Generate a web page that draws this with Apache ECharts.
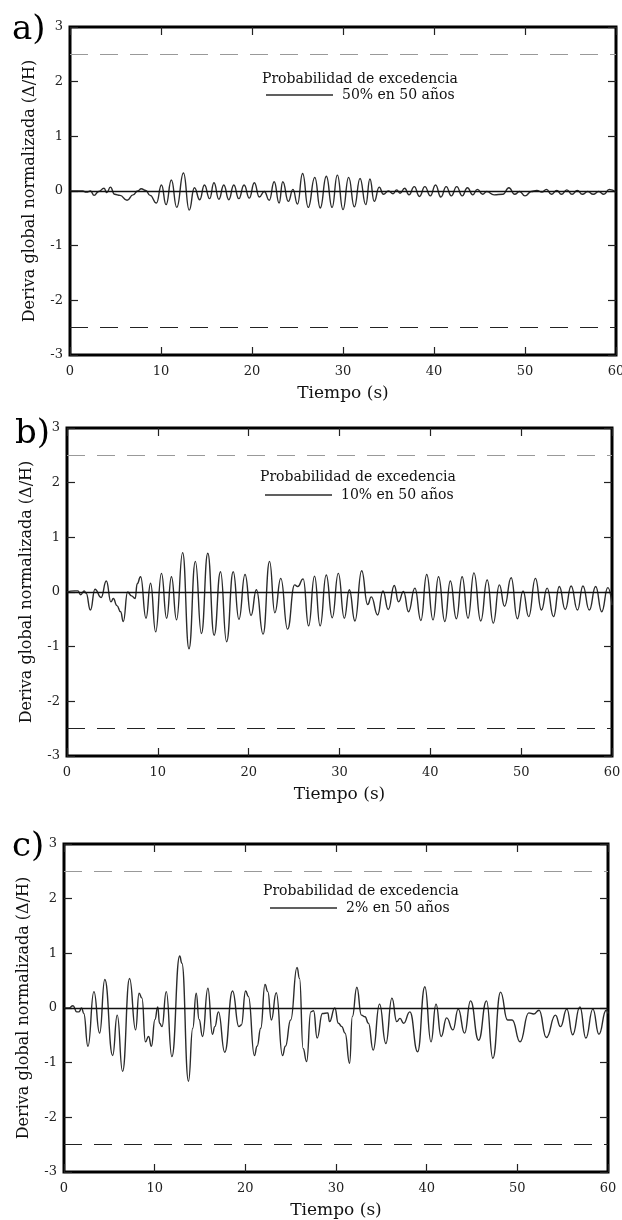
<!DOCTYPE html>
<html>
<head>
<meta charset="utf-8">
<title>Deriva global normalizada</title>
<script src="https://cdn.jsdelivr.net/npm/echarts/dist/echarts.min.js"></script>
<style>
  html, body { margin: 0; padding: 0; background: #fff; }
  #chart { width: 622px; height: 1220px; }
</style>
</head>
<body>
<div id="chart"></div>
<script>
  // datos: [tiempo (s), deriva (Δ/H)]
  var derivaA = [[0,0],[1.4,0],[1.8,-0.02],[2.26,0],[2.65,-0.08],[3.15,-0.01],[3.74,0.05],[4.05,-0.03],[4.44,0.07],[4.9,-0.06],[5.5,-0.08],[6.27,-0.17],[6.93,-0.07],[7.44,0],[7.83,0.04],[8.33,0.01],[8.8,-0.08],[9.5,-0.22],[10.05,0.11],[10.56,-0.25],[11.14,0.2],[11.73,-0.3],[12.47,0.33],[13.1,-0.35],[13.67,0.06],[14.26,-0.16],[14.77,0.11],[15.35,-0.14],[15.82,0.15],[16.36,-0.15],[16.9,0.11],[17.45,-0.16],[18.0,0.11],[18.55,-0.14],[19.13,0.11],[19.71,-0.13],[20.26,0.15],[20.8,-0.11],[21.35,-0.01],[21.9,-0.17],[22.44,0.17],[22.98,-0.22],[23.38,0.17],[24.0,-0.19],[24.5,0.03],[25.0,-0.24],[25.56,0.32],[26.18,-0.3],[26.9,0.25],[27.5,-0.31],[28.17,0.27],[28.8,-0.3],[29.38,0.29],[30.0,-0.34],[30.62,0.25],[31.25,-0.29],[31.87,0.23],[32.5,-0.25],[32.96,0.22],[33.43,-0.19],[33.98,0.07],[34.44,-0.06],[35.0,0],[35.5,-0.05],[35.9,0.02],[36.27,-0.04],[36.78,0.05],[37.25,-0.07],[37.83,0.08],[38.4,-0.1],[39.0,0.08],[39.6,-0.09],[40.17,0.11],[40.75,-0.11],[41.34,0.08],[41.9,-0.09],[42.5,0.08],[43.1,-0.09],[43.67,0.06],[44.26,-0.07],[44.77,0.03],[45.35,-0.06],[45.8,-0.01],[46.6,-0.07],[47.57,-0.06],[48.23,0.06],[48.86,-0.06],[49.4,-0.01],[50.0,-0.09],[50.7,-0.01],[51.3,0.01],[51.86,-0.02],[52.36,0.03],[52.9,-0.06],[53.5,0.01],[54.0,-0.06],[54.6,0.02],[55.17,-0.06],[55.75,0.01],[56.3,-0.06],[56.9,-0.01],[57.5,-0.06],[58.1,-0.01],[58.67,-0.06],[59.26,0.03],[60,-0.02]];

  var derivaB = [[0,0],[0.8,0.02],[1.2,0.02],[1.5,-0.05],[1.9,0.02],[2.1,-0.02],[2.58,-0.33],[3.08,0.05],[3.75,-0.1],[4.33,0.2],[4.84,-0.18],[5.1,-0.12],[5.5,-0.25],[5.9,-0.36],[6.2,-0.54],[6.67,0],[7.1,-0.07],[7.5,-0.12],[7.73,0.15],[8.1,0.28],[8.7,-0.48],[9.2,0.16],[9.76,-0.73],[10.4,0.34],[10.97,-0.48],[11.5,0.28],[12.06,-0.51],[12.73,0.72],[13.43,-1.04],[14.13,0.56],[14.8,-0.76],[15.5,0.71],[16.2,-0.79],[16.9,0.37],[17.57,-0.91],[18.3,0.37],[18.93,-0.5],[19.6,0.32],[20.26,-0.43],[20.85,0.04],[21.59,-0.77],[22.3,0.56],[22.88,-0.38],[23.54,0.25],[24.28,-0.68],[25.06,0.13],[25.4,0.1],[26.0,0.24],[26.6,-0.62],[27.25,0.29],[27.87,-0.62],[28.54,0.31],[29.2,-0.47],[29.87,0.34],[30.53,-0.48],[31.08,0.04],[31.7,-0.53],[32.44,0.39],[33.1,-0.23],[33.5,-0.09],[34.2,-0.42],[34.78,0.02],[35.37,-0.32],[36.03,0.12],[36.5,-0.18],[37.05,0.01],[37.6,-0.36],[38.3,0.07],[38.96,-0.52],[39.6,0.32],[40.3,-0.51],[40.9,0.28],[41.6,-0.54],[42.2,0.2],[42.87,-0.49],[43.5,0.28],[44.15,-0.48],[44.8,0.35],[45.55,-0.53],[46.26,0.22],[46.93,-0.57],[47.6,0.13],[48.17,-0.26],[48.9,0.26],[49.58,-0.49],[50.2,0.02],[50.83,-0.45],[51.57,0.25],[52.23,-0.33],[52.86,0.07],[53.56,-0.45],[54.2,0.1],[54.85,-0.32],[55.5,0.11],[56.2,-0.33],[56.8,0.11],[57.5,-0.33],[58.2,0.1],[58.87,-0.36],[59.54,0.08],[60,-0.24]];

  var derivaC = [[0,0],[0.5,0],[1.0,0.04],[1.4,-0.07],[1.65,-0.07],[1.94,0],[2.18,-0.1],[2.64,-0.7],[3.3,0.3],[3.93,-0.46],[4.5,0.52],[5.37,-0.87],[5.87,-0.13],[6.46,-1.16],[7.23,0.54],[7.9,-0.4],[8.28,0.27],[8.6,0.18],[8.98,-0.62],[9.33,-0.52],[9.64,-0.7],[10.03,-0.21],[10.34,0.02],[10.54,-0.28],[10.81,-0.34],[11.28,0.3],[11.9,-0.89],[12.76,0.95],[13.0,0.82],[13.73,-1.34],[14.2,-0.37],[14.58,0.27],[14.9,-0.21],[15.28,-0.52],[15.87,0.36],[16.37,-0.48],[16.64,-0.34],[17.03,-0.07],[17.73,-0.81],[18.59,0.31],[19.29,-0.34],[19.56,-0.31],[20.03,0.31],[20.34,0.21],[21.0,-0.87],[21.3,-0.7],[21.7,-0.37],[22.17,0.43],[22.48,0.3],[22.87,-0.22],[23.41,0.28],[24.1,-0.87],[24.42,-0.7],[25.0,-0.22],[25.7,0.74],[25.98,0.54],[26.37,-0.74],[26.76,-0.98],[27.22,-0.07],[27.53,-0.05],[27.92,-0.55],[28.5,-0.1],[29.1,-0.09],[29.28,-0.25],[29.87,0],[30.26,-0.28],[30.64,-0.34],[31.0,-0.46],[31.5,-1.01],[31.8,-0.16],[32.3,0.38],[32.8,-0.13],[33.2,-0.16],[33.58,-0.28],[34.1,-0.77],[34.8,0.07],[35.5,-0.65],[36.17,0.18],[36.7,-0.25],[37.06,-0.19],[37.45,-0.28],[38.15,-0.07],[39.0,-0.8],[39.8,0.39],[40.48,-0.62],[41.03,0.07],[41.6,-0.52],[42.2,-0.18],[42.9,-0.4],[43.48,-0.02],[44.18,-0.46],[44.84,0.13],[45.73,-0.59],[46.6,0.13],[47.3,-0.92],[48.15,0.29],[48.92,-0.22],[49.43,-0.22],[50.3,-0.62],[51.26,-0.09],[51.8,-0.11],[52.4,-0.04],[53.2,-0.54],[54.2,-0.13],[54.76,-0.34],[55.46,-0.02],[56.1,-0.49],[56.9,0.02],[57.56,-0.55],[58.33,-0.02],[59.0,-0.48],[59.8,-0.04],[60,-0.1]];

  var series_data = [derivaA, derivaB, derivaC];
  var nombres = ['50% en 50 años', '10% en 50 años', '2% en 50 años'];
  var letras = ['a)', 'b)', 'c)'];
  var limites = [2.5, -2.5];   // lineas de trazos
  var titulo_leyenda = 'Probabilidad de excedencia';
  var tituloX = 'Tiempo (s)';
  var tituloY = 'Deriva global normalizada (Δ/H)';

  // posiciones de cada panel (px)
  var paneles = [
    { left: 70, top: 27, width: 546, letra: [12, 30], cab: [262, 79], ley: [266, 88] },
    { left: 67, top: 428, width: 545, letra: [15, 434], cab: [260, 477], ley: [265, 488] },
    { left: 64, top: 844, width: 544, letra: [12, 847], cab: [263, 891], ley: [270, 901] }
  ];

  var FONT = '"DejaVu Serif", "Liberation Serif", serif';
  var myChart = echarts.init(document.getElementById('chart'), null, { renderer: 'canvas' });

  var grid = [], xAxis = [], yAxis = [], series = [], legend = [], graphic = [];

  var tick = { show: true, inside: true, length: 8, lineStyle: { color: '#222', width: 1.2 } };
  var sinLinea = { show: false, onZero: false };

  paneles.forEach(function (p, i) {
    grid.push({
      left: p.left, top: p.top, width: p.width, height: 328,
      show: true, borderColor: '#000', borderWidth: 3,
      backgroundColor: 'transparent', outerBoundsMode: 'none', containLabel: false
    });

    xAxis.push({
      gridIndex: i, type: 'value', min: 0, max: 60, interval: 10, position: 'bottom',
      axisLine: sinLinea, axisTick: tick, splitLine: { show: false },
      axisLabel: { margin: 10, fontFamily: FONT, fontSize: 13, color: '#222' },
      name: tituloX, nameLocation: 'middle', nameGap: 30,
      nameTextStyle: { fontFamily: FONT, fontSize: 17, color: '#111' }
    });
    xAxis.push({
      gridIndex: i, type: 'value', min: 0, max: 60, interval: 10, position: 'top',
      axisLine: sinLinea, axisTick: tick, splitLine: { show: false },
      axisLabel: { show: false }
    });

    yAxis.push({
      gridIndex: i, type: 'value', min: -3, max: 3, interval: 1, position: 'left',
      axisLine: sinLinea, axisTick: tick, splitLine: { show: false },
      axisLabel: { margin: 7, fontFamily: FONT, fontSize: 13, color: '#222' },
      name: tituloY, nameLocation: 'middle', nameGap: 32, nameRotate: 90,
      nameTextStyle: { fontFamily: FONT, fontSize: 16, color: '#111' }
    });
    yAxis.push({
      gridIndex: i, type: 'value', min: -3, max: 3, interval: 1, position: 'right',
      axisLine: sinLinea, axisTick: tick, splitLine: { show: false },
      axisLabel: { show: false }
    });

    series.push({
      name: nombres[i], type: 'line',
      xAxisIndex: 2 * i, yAxisIndex: 2 * i,
      data: series_data[i],
      smooth: 0.5, smoothMonotone: 'x',
      symbol: 'none', showSymbol: false,
      lineStyle: { color: '#2b2b2b', width: 1.4 },
      itemStyle: { color: '#2b2b2b' },
      markLine: {
        silent: true, symbol: 'none', label: { show: false },
        data: [
          { yAxis: 0, lineStyle: { color: '#111', width: 1.3, type: 'solid' } },
          { yAxis: limites[0], lineStyle: { color: '#999', width: 1.2, type: [18, 12] } },
          { yAxis: limites[1], lineStyle: { color: '#222', width: 1.2, type: [18, 12] } }
        ]
      }
    });

    legend.push({
      data: [nombres[i]], left: p.ley[0], top: p.ley[1], padding: 0,
      icon: 'rect', itemWidth: 67, itemHeight: 1.3, selectedMode: false,
      itemStyle: { borderWidth: 0 },
      textStyle: { fontFamily: FONT, fontSize: 14, color: '#111', padding: [0, 0, 0, 4] }
    });

    graphic.push({
      type: 'text', x: p.letra[0], y: p.letra[1], silent: true,
      style: { text: letras[i], font: '34px ' + FONT, fill: '#000', align: 'left', verticalAlign: 'middle' }
    });
    graphic.push({
      type: 'text', x: p.cab[0], y: p.cab[1], silent: true,
      style: { text: titulo_leyenda, font: '14px ' + FONT, fill: '#111', align: 'left', verticalAlign: 'middle' }
    });
  });

  var option = {
    animation: false,
    backgroundColor: '#fff',
    grid: grid,
    xAxis: xAxis,
    yAxis: yAxis,
    series: series,
    legend: legend,
    graphic: graphic
  };

  option && myChart.setOption(option);
</script>
</body>
</html>
